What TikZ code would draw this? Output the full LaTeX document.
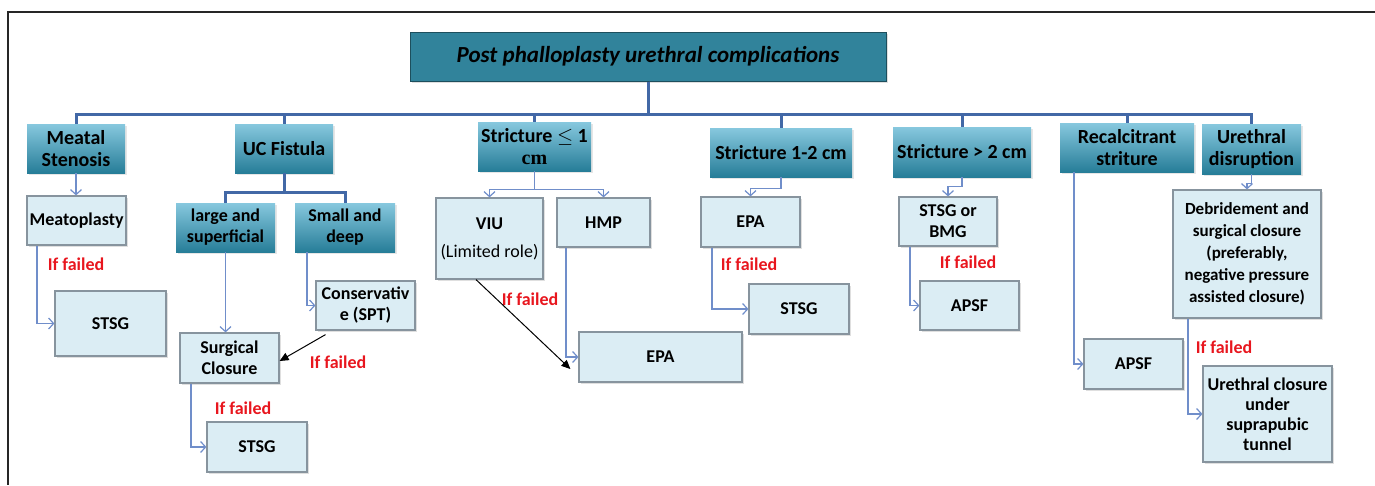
\documentclass[tikz,border=0pt]{standalone}
\usepackage{fontspec}
\setmainfont{Carlito}
\newfontfamily\cmfont{Liberation Serif}
\usetikzlibrary{
    arrows.meta,
    calc,
    shadows,
    positioning
}
\definecolor{titleteal}{RGB}{49,131,155}
\definecolor{headtop}{RGB}{135,200,222}
\definecolor{headbot}{RGB}{38,125,152}
\definecolor{leaffill}{RGB}{219,237,244}
\definecolor{leafedge}{RGB}{135,148,158}
\definecolor{busblue}{RGB}{66,104,166}
\definecolor{linkblue}{RGB}{112,142,202}
\definecolor{failred}{RGB}{232,22,30}
\tikzset{
  every node/.style={
    inner sep=1.5pt,
    align=center,
    font=\bfseries\fontsize{18}{21}\selectfont
  },
  title/.style={
    draw=titleteal!60!black,
    fill=titleteal,
    line width=1pt,
    font=\bfseries\itshape\fontsize{23}{26}\selectfont,
    drop shadow={opacity=0.25,shadow xshift=2pt,shadow yshift=-2pt}
  },
  head/.style={
    top color=headtop,
    bottom color=headbot,
    font=\bfseries\fontsize{20}{22}\selectfont,
    drop shadow={opacity=0.2,shadow xshift=1.5pt,shadow yshift=-1.5pt}
  },
  subhead/.style={
    head,
    font=\bfseries\fontsize{18}{21}\selectfont
  },
  leaf/.style={
    draw=leafedge,
    fill=leaffill,
    line width=1.2pt,
    drop shadow={opacity=0.25,shadow xshift=2pt,shadow yshift=-2pt}
  },
  bus/.style={busblue, line width=3pt},
  link/.style={linkblue, line width=1.2pt, -{Straight Barb[length=5pt,width=11pt]}},
  failarrow/.style={black, line width=1pt, -{Triangle[length=9pt,width=8pt]}},
  fail/.style={text=failred}
}

\begin{document}
\begin{tikzpicture}[x=1pt,y=-1pt]
    \useasboundingbox (0,0) rectangle (1375,485);
    % frame
    \draw[line width=1.5pt, black!85] (1375,12) -- (8,12) -- (8,485);

    % root
    \node[title, minimum width=476pt, minimum height=49pt] (root) at (648,56.5)
        {Post phalloplasty urethral complications};

    % first level
    \node[head, minimum width=98pt, minimum height=49pt] (meatal) at (76,148.5) {Meatal\\Stenosis};
    \node[head, minimum width=98pt, minimum height=49pt] (fistula) at (284,148.5) {UC Fistula};
    \node[head, minimum width=113pt, minimum height=49pt] (strA) at (534.5,146.5) {Stricture $\leq$ 1\\{\cmfont cm}};
    \node[head, minimum width=142pt, minimum height=49pt] (strB) at (781,152.5) {Stricture 1-2 cm};
    \node[head, minimum width=138pt, minimum height=50pt] (strC) at (962,152) {Stricture > 2 cm};
    \node[head, minimum width=134pt, minimum height=49pt] (recal) at (1127,147.5) {Recalcitrant\\striture};
    \node[head, minimum width=99pt, minimum height=50pt] (disr) at (1251.5,149) {Urethral\\disruption};

    % fistula split
    \node[subhead, minimum width=99pt, minimum height=49pt] (large) at (225.5,227.5) {large and\\superficial};
    \node[subhead, minimum width=100pt, minimum height=49pt] (small) at (345,227.5) {Small and\\deep};

    % treatments
    \node[leaf, minimum width=99pt, minimum height=49pt] (meato) at (76.5,220.5) {Meatoplasty};
    \node[leaf, minimum width=111pt, minimum height=65pt] (stsgA) at (110.5,323.5) {STSG};
    \node[leaf, minimum width=99pt, minimum height=50pt] (surg) at (229.5,358) {Surgical\\Closure};
    \node[leaf, minimum width=99pt, minimum height=49pt] (cons) at (365.5,305.5) {Conservativ\\e (SPT)};
    \node[leaf, minimum width=100pt, minimum height=50pt] (stsgB) at (257,447) {STSG};
    \node[leaf, minimum width=107pt, minimum height=81pt] (viu) at (489.5,238.5)
        {VIU\\[7pt]{\mdseries (Limited role)}};
    \node[leaf, minimum width=93pt, minimum height=49pt] (hmp) at (603.5,222.5) {HMP};
    \node[leaf, minimum width=163pt, minimum height=50pt] (epaA) at (660.5,357) {EPA};
    \node[leaf, minimum width=99pt, minimum height=50pt] (epaB) at (750.5,222) {EPA};
    \node[leaf, minimum width=100pt, minimum height=50pt] (stsgC) at (799,309) {STSG};
    \node[leaf, minimum width=98pt, minimum height=49pt] (bmg) at (948,221.5) {STSG or\\BMG};
    \node[leaf, minimum width=99pt, minimum height=49pt] (apsfA) at (969.5,305.5) {APSF};
    \node[leaf, minimum width=99pt, minimum height=50pt] (apsfB) at (1133.5,364) {APSF};
    \node[leaf, minimum width=148pt, minimum height=128pt, font=\bfseries\fontsize{17}{22}\selectfont] (debr) at (1247,254)
        {Debridement and\\surgical closure\\(preferably,\\negative pressure\\assisted closure)};
    \node[leaf, minimum width=129pt, minimum height=96pt, font=\bfseries\fontsize{18}{20}\selectfont] (tunnel) at (1267.5,414)
        {Urethral closure\\under\\suprapubic\\tunnel};

    % failure labels
    \node[fail] (fA) at (76,264) {If failed};
    \node[fail] (fB) at (338,362) {If failed};
    \node[fail] (fC) at (243,408) {If failed};
    \node[fail] (fD) at (530,299) {If failed};
    \node[fail] (fE) at (749,264) {If failed};
    \node[fail] (fF) at (968,262) {If failed};
    \node[fail] (fG) at (1224,347) {If failed};

    % main bus
    \foreach \n in {meatal,fistula,strA,strB,strC,recal,disr}
        \draw[bus] (root.south) -- ++(0,33) -| (\n.north);
    \draw[bus] (fistula.south) -- ++(0,19) -| (large.north);
    \draw[bus] (fistula.south) -- ++(0,19) -| (small.north);

    % treatment links
    \draw[link] (meatal.south) -- (meatal.south |- meato.north);
    \draw[link] ([xshift=-39.5pt]meato.south) |- (stsgA.west);
    \draw[link] (large.south) -- (large.south |- surg.north);
    \draw[link] ([xshift=-38pt]small.south) |- (cons.west);
    \draw[link] ([xshift=-38.5pt]surg.south) |- (stsgB.west);
    \draw[link] (strA.south) -- ++(0,18) -| (viu.north);
    \draw[link] (strA.south) -- ++(0,18) -| (hmp.north);
    \draw[link] ([xshift=-37.5pt]hmp.south) |- (epaA.west);
    \draw[link] (strB.south) -- ++(0,11) -| (epaB.north);
    \draw[link] ([xshift=-38.5pt]epaB.south) |- (stsgC.west);
    \draw[link] (strC.south) -- ++(0,9) -| (bmg.north);
    \draw[link] ([xshift=-38pt]bmg.south) |- (apsfA.west);
    \draw[link] ([xshift=-53pt]recal.south) |- (apsfB.west);
    \draw[link] (disr.south) -- ++(0,9) -| (debr.north);
    \draw[link] ([xshift=-59pt]debr.south) |- (tunnel.west);

    % black failure arrows
    \draw[failarrow] ($(cons.south)+(-40,4)$) -- ($(surg.east)+(0,3)$);
    \draw[failarrow] ($(viu.south)+(-13.5,0)$) -- ($(epaA.west)+(-8,12)$);
\end{tikzpicture}
\end{document}
